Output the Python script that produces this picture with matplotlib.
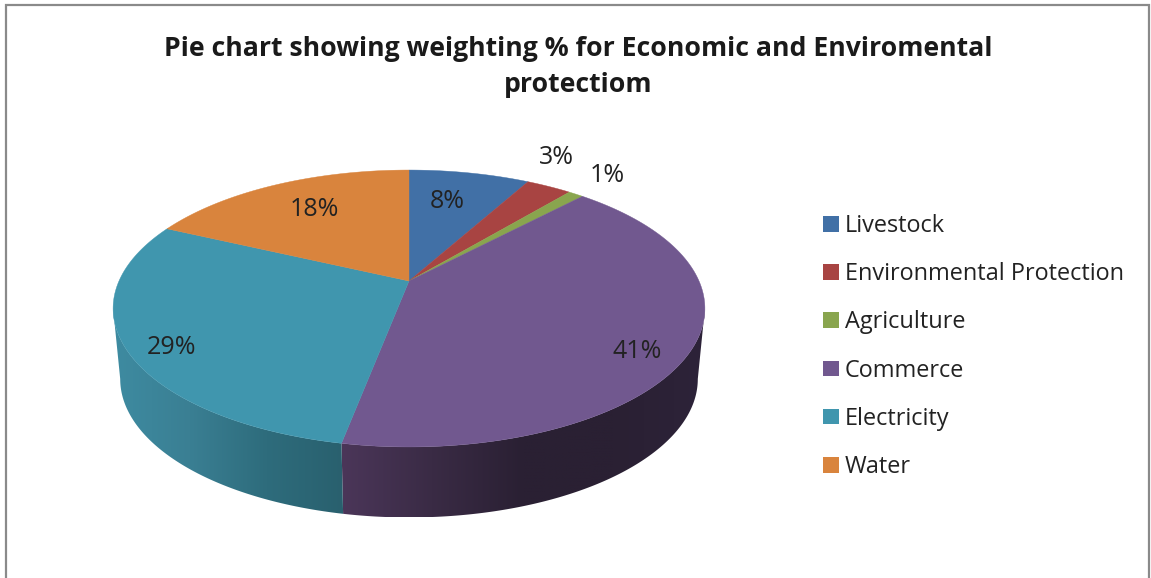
import numpy as np
import matplotlib
matplotlib.use("Agg")
import matplotlib.pyplot as plt
from matplotlib.patches import Patch, Polygon
from matplotlib.colors import LinearSegmentedColormap

categories = ["Livestock", "Environmental Protection", "Agriculture", "Commerce", "Electricity", "Water"]
values = [8, 3, 1, 41, 29, 18]
colors = ["#4170A6", "#A84442", "#89A54E", "#71588F", "#4096AE", "#D9843D"]
title = "Pie chart showing weighting % for Economic and Enviromental\nprotectiom"

# layout (pixel-like axes)
W, H = 1151, 578
CX, CY = 409, 281
A, B, K = 133, 290, 0.1986
DEPTH = 70.5
SHRINK = 0.976
label_pos = [(447, 201), (556, 158), (607.5, 175), (637, 351), (172, 347), (314, 209)]
FONT = "Open Sans"

plt.rcParams["font.family"] = [FONT, "DejaVu Sans"]
fig = plt.figure(figsize=(W / 100, H / 100), dpi=100)
ax = fig.add_axes([0, 0, 1, 1])


def rim(theta):
    u, v = np.sin(theta), np.cos(theta)
    d = 1 + K * v
    return CX + B * u / d, CY - A * v / d


def lower(theta):
    x, y = rim(theta)
    return CX + (x - CX) * SHRINK, y + DEPTH


fracs = np.array(values, dtype=float) / sum(values)
edges = np.concatenate([[0], np.cumsum(fracs)]) * 2 * np.pi

# side wall, only the front half is visible
t_right = np.arctan2(np.sqrt(1 - K**2), -K)
t_left = 2 * np.pi - t_right
wall_shades = {3: ["#4B3659", "#3A2B45", "#2A2033", "#2A2033", "#2D2339"],
               4: ["#3E8BA1", "#3A7F93", "#2E6C7C", "#29606E"]}

for i, stops in wall_shades.items():
    lo, hi = max(edges[i], t_right), min(edges[i + 1], t_left)
    th = np.linspace(lo, hi, 200)
    xt, yt = rim(th)
    xb, yb = lower(th)
    poly_x = np.r_[xt, xb[::-1]]
    poly_y = np.r_[yt, yb[::-1]]
    cmap = LinearSegmentedColormap.from_list(f"wall{i}", stops)
    grad = np.linspace(0, 1, 256)[None, :]
    im = ax.imshow(grad, cmap=cmap, aspect="auto", interpolation="bilinear", zorder=1,
                   extent=(poly_x.min(), poly_x.max(), poly_y.max(), poly_y.min()))
    clip = Polygon(np.c_[poly_x, poly_y], closed=True, transform=ax.transData)
    im.set_clip_path(clip)

# top surface
for i, c in enumerate(colors):
    th = np.linspace(edges[i], edges[i + 1], 200)
    x, y = rim(th)
    ax.fill(np.r_[CX, x], np.r_[CY, y], color=c, lw=0.3, zorder=2)

ax.set_xlim(0, W)
ax.set_ylim(H, 0)
ax.set_aspect("auto")
ax.axis("off")

# data labels
for v, (x, y) in zip(values, label_pos):
    ax.text(x, y, f"{v}%", ha="center", va="center", fontsize=18, color="#222222", zorder=3)

ax.text(578.5, 66.5, title, ha="center", va="center", fontsize=19.2, fontweight="bold",
        color="#1a1a1a", linespacing=1.5)

handles = [Patch(facecolor=c, edgecolor="none") for c in colors]
leg = ax.legend(handles, categories, loc="upper left", bbox_to_anchor=(802 / W, 1 - 193 / H),
                frameon=False, fontsize=16.9, handlelength=0.68, handleheight=0.65,
                handletextpad=0.25, labelspacing=1.03, labelcolor="#222222")

# chart border
ax.plot([6.5, 6.5, 1149, 1149], [H, 5, 5, H], color="#8a8a8a", lw=1.6, solid_joinstyle="miter", zorder=4)

fig.savefig("out.png", dpi=100, facecolor="white")
